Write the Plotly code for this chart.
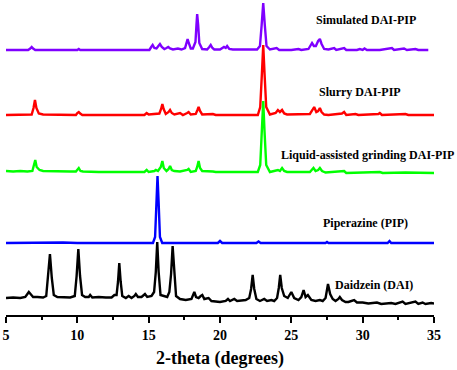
import plotly.graph_objects as go

# ---- data (2-theta, intensity above each pattern's baseline, arbitrary units) ----
sim_pts = [(5.0,0),(6.55,0),(6.7,1.5),(6.8,3),(6.9,1.5),(7.05,0),(10.0,0),(10.1,1),(10.2,0),(15.05,0),
           (15.18,3),(15.28,5),(15.4,2),(15.55,1.5),(15.68,4),(15.79,6),(15.92,3),(16.1,1),(16.25,2),
           (16.37,3),(16.5,1.5),(16.7,0.5),(17.05,1.5),(17.3,0.5),(17.55,2),(17.65,7),(17.73,11),
           (17.81,7),(17.95,1.5),(18.1,1.5),(18.28,8),(18.35,25),(18.4,36),(18.47,25),(18.55,7),
           (18.75,1),(19.1,0.5),(19.25,3),(19.35,5),(19.47,2),(19.6,0.5),(20.0,0.5),(20.28,3),
           (20.4,2),(20.5,4),(20.65,1),(20.9,0.5),(22.6,0.5),(22.8,4),(22.92,25),(23.03,47),
           (23.14,25),(23.26,4),(23.5,0.5),(23.85,1.5),(23.97,2),(24.15,0),(25.0,0),(25.5,1),
           (25.7,0),(26.2,1),(26.35,5),(26.45,7),(26.58,4),(26.72,4),(26.88,9),(27.0,11),(27.12,6),
           (27.3,1),(27.6,0.5),(27.9,1.5),(28.0,2),(28.15,0),(28.6,1.5),(28.7,2),(28.85,0),(29.6,0),
           (29.8,1),(30.0,0),(30.13,1.5),(30.3,0),(31.2,0),(31.95,1.5),(32.05,2),(32.2,0),(32.9,1.5),
           (33.1,0),(33.7,1),(33.9,0),(34.6,0)]

slurry_pts = [(5.0,0),(6.8,0.5),(6.93,7),(7.03,15),(7.13,7),(7.3,1.5),(7.6,0.5),(9.9,0),(10.0,2),
              (10.1,3),(10.2,1.5),(10.35,0),(14.7,0),(14.86,2),(15.0,0.5),(15.5,1),(15.75,1.5),
              (15.87,6),(15.96,11),(16.05,6),(16.2,1),(16.4,3),(16.5,5),(16.62,2),(16.8,0.5),(17.2,2),
              (17.4,0),(17.7,2),(17.8,3),(17.95,0.5),(18.3,1),(18.42,5),(18.5,8),(18.6,4),(18.75,0.5),
              (19.5,1),(19.7,0),(22.65,0),(22.82,8),(22.94,42),(23.03,70),(23.12,42),(23.24,8),
              (23.5,0.5),(23.9,2),(24.06,5),(24.2,3),(24.35,5),(24.5,1.5),(24.7,0.5),(26.3,1),
              (26.48,5),(26.6,8),(26.75,3),(26.88,4),(27.0,7),(27.12,3),(27.3,0.5),(27.6,0),(28.55,1.5),
              (28.7,3),(28.85,0),(29.5,1),(29.7,0),(31.1,1),(31.2,2),(31.35,0),(33.0,1),(33.2,0),
              (35.0,0)]

lag_pts = [(5.0,2),(5.5,1.5),(6.0,2),(6.5,1.5),(6.85,2),(6.95,7),(7.05,13),(7.15,6),(7.35,3),(7.6,2),
           (8.5,1.5),(9.5,1.5),(9.9,1.5),(10.0,3),(10.1,5),(10.22,2),(10.4,1.5),(11.5,1),(13.0,1),
           (14.7,1),(14.86,3),(15.0,1),(15.4,2),(15.5,3),(15.65,2),(15.85,6),(15.96,12),(16.06,5),
           (16.25,2),(16.4,4),(16.5,7),(16.62,3),(16.8,2),(17.2,1.5),(17.7,3),(17.8,4),(17.95,1),
           (18.3,2),(18.4,6),(18.5,12),(18.6,5),(18.75,2),(19.5,1.5),(19.7,1),(21.5,1),(22.65,1),
           (22.82,8),(22.94,42),(23.03,72),(23.12,42),(23.24,8),(23.5,1),(23.9,2),(24.06,3),
           (24.2,2),(24.35,5),(24.5,2),(24.7,1),(26.3,1),(26.45,4),(26.55,5),(26.7,2),(26.88,3),
           (27.0,5),(27.15,2),(27.4,0.5),(28.55,1.5),(28.7,2),(28.85,0),(30.0,0.5),(31.2,1),(31.4,0),
           (33.0,0.5),(35.0,0)]

pip_pts = [(5.0,0),(7.0,0.5),(8.0,0),(9.0,0.5),(10.0,0),(15.3,0),(15.45,6),(15.54,40),(15.62,67),
           (15.7,40),(15.79,6),(15.95,0),(19.85,0),(20.0,2),(20.15,0),(22.55,0),(22.7,1.5),(22.85,0),
           (27.4,0),(27.5,1),(27.6,0),(31.75,0),(31.88,2),(32.0,0),(35.0,0)]

dai_pts = [(5.0,6),(5.5,6.5),(6.0,6),(6.35,7),(6.5,10),(6.6,12),(6.72,10),(6.9,7),(7.2,7),(7.6,6.5),
           (7.82,8),(7.95,26),(8.08,50),(8.21,26),(8.35,9),(8.6,7),(9.0,7),(9.5,6.5),(9.82,8),
           (9.95,28),(10.07,55),(10.19,28),(10.33,9),(10.55,7),(10.8,7),(10.9,9),(11.05,6.5),(11.5,7),
           (12.0,6.5),(12.4,6.5),(12.6,9),(12.75,9),(12.85,22),(12.94,41),(13.04,22),(13.15,8),
           (13.4,6),(13.6,8),(13.8,6),(14.0,8),(14.1,10),(14.25,7),(14.5,7),(14.65,9),(14.74,10),
           (14.9,7),(15.2,8),(15.38,12),(15.5,32),(15.6,62),(15.7,32),(15.83,9),(16.0,8),(16.3,7),
           (16.45,12),(16.57,30),(16.68,58),(16.79,30),(16.92,8),(17.2,5),(17.6,4),(18.0,5),(18.1,9),
           (18.2,12),(18.32,7),(18.5,6),(18.65,8),(18.76,9),(18.9,5),(19.1,6),(19.2,6),(19.4,3),
           (20.0,2),(20.4,3),(20.56,5),(20.7,3),(20.9,4),(21.0,5),(21.2,3),(21.8,4),(22.05,6),
           (22.18,15),(22.29,29),(22.4,15),(22.55,5),(22.8,3),(23.1,5),(23.3,3),(23.6,4),(23.8,3),
           (24.0,6),(24.12,16),(24.22,29),(24.33,16),(24.5,8),(24.75,6),(25.0,12),(25.2,6),(25.5,4),
           (25.7,7),(25.86,14),(26.0,7),(26.16,9),(26.4,4),(26.7,3),(27.0,4),(27.2,3),(27.4,6),
           (27.57,20),(27.72,10),(27.9,5),(28.1,3),(28.3,5),(28.4,7),(28.55,4),(28.8,2),(29.0,2),
           (29.3,4),(29.4,4),(29.6,1.5),(30.0,1.5),(30.4,0.5),(31.0,1.5),(31.3,0),(32.0,1),(32.3,0),
           (32.8,2.5),(33.0,0),(33.4,1),(33.7,2.5),(33.9,0),(34.2,1.5),(34.4,0),(34.8,1),(35.0,0.5)]

labels = ["Simulated DAI-PIP", "Slurry DAI-PIP", "Liquid-assisted grinding DAI-PIP",
          "Piperazine (PIP)", "Daidzein (DAI)"]
x_ticks = [5, 10, 15, 20, 25, 30, 35]
x_title = "2-theta (degrees)"

# ---- layout / styling (not data) ----
series = [sim_pts, slurry_pts, lag_pts, pip_pts, dai_pts]
offsets = [265, 200, 142, 72, 11]
colors = ["#7F00FF", "#FF0000", "#00FF00", "#0000FF", "#000000"]
label_pos = [(30.23, 295), (29.8, 223), (30.37, 160), (30.23, 92), (30.77, 30)]

FONT = "Liberation Serif, Times New Roman, serif"

fig = go.Figure()
for pts, off, col in zip(series, offsets, colors):
    xs = [p[0] for p in pts]
    ys = [p[1] + off for p in pts]
    fig.add_trace(go.Scatter(x=xs, y=ys, mode="lines",
                             line=dict(color=col, width=2.4), showlegend=False,
                             hoverinfo="skip"))

for text, (lx, ly) in zip(labels, label_pos):
    fig.add_annotation(x=lx, y=ly, xref="x", yref="y", text=f"<b>{text}</b>",
                       showarrow=False, font=dict(family=FONT, size=12, color="black"))

fig.update_layout(
    width=457, height=370,
    margin=dict(l=6, r=23, t=0, b=55, autoexpand=False),
    paper_bgcolor="white", plot_bgcolor="white",
    xaxis=dict(range=[5, 35], tickvals=x_ticks, ticktext=[f"<b>{t}</b>" for t in x_ticks],
               showline=True, linecolor="black", linewidth=2, mirror=False,
               ticks="outside", ticklen=6, tickwidth=1.5, tickcolor="black",
               minor=dict(dtick=2.5, ticks="outside", ticklen=3, tickwidth=1.5, tickcolor="black"),
               showgrid=False, zeroline=False,
               tickfont=dict(family=FONT, size=14, color="black"),
               title=dict(text=f"<b>{x_title}</b>", font=dict(family=FONT, size=18, color="black"),
                          standoff=10)),
    yaxis=dict(range=[0, 315], visible=False, showgrid=False, zeroline=False),
)

fig.write_html("out.html", config={"displayModeBar": False},
               post_script="document.body.style.margin='0';document.body.style.padding='0';"
                           "document.body.style.overflow='hidden';")
